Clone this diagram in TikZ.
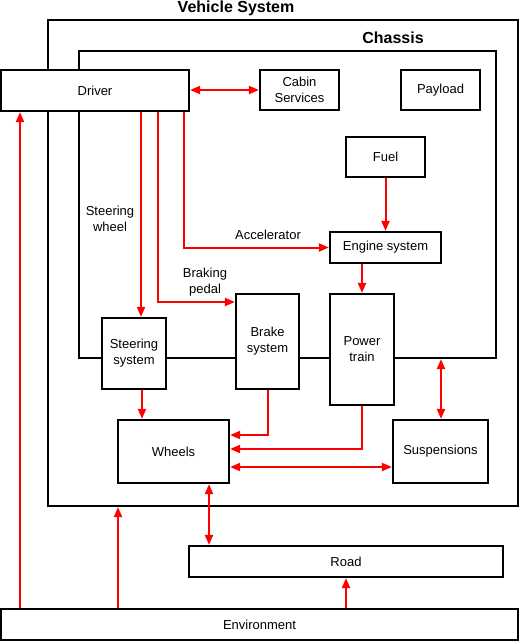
\documentclass[tikz,border=0pt]{standalone}
\usepackage{fontspec}
\setmainfont{Liberation Sans}
\usetikzlibrary{arrows.meta}
\def\boxLine{2.2pt}
\def\flowLine{2pt}

\begin{document}
\begin{tikzpicture}[
    x=1pt, y=-1pt,
    >={Triangle[length=10pt,width=8pt]},
    every node/.style={font=\fontsize{13}{16}\selectfont, align=center},
    block/.style={draw, fill=white, line width=\boxLine, inner sep=0pt},
    frame/.style={draw, line width=\boxLine, inner sep=0pt},
    title/.style={font=\fontsize{16}{18}\selectfont\bfseries},
    flow/.style={red, line width=\flowLine}
]
\useasboundingbox (0,0) rectangle (520,642);

% frames
\node[frame, minimum width=470pt, minimum height=486pt] (vehicle) at (283,263) {};
\node[title] (vehicleTitle) at (236,8) {Vehicle System};
\node[frame, minimum width=417pt, minimum height=307pt] (chassis) at (287.5,204.5) {};
\node[title] (chassisTitle) at (393,38) {Chassis};

% blocks
\node[block, minimum width=188pt, minimum height=41pt] (driver) at (95,90.5) {Driver};
\node[block, minimum width=79pt, minimum height=40pt] (cabin) at (299.5,90) {Cabin\\Services};
\node[block, minimum width=79pt, minimum height=40pt] (payload) at (440.5,90) {Payload};
\node[block, minimum width=79pt, minimum height=40pt] (fuel) at (385.5,157) {Fuel};
\node[block, minimum width=111pt, minimum height=31pt] (engine) at (385.5,247.5) {Engine system};
\node[block, minimum width=64pt, minimum height=71pt] (steering) at (134,353.5) {Steering\\system};
\node[block, minimum width=63pt, minimum height=95pt] (brake) at (267.5,341.5) {Brake\\system};
\node[block, minimum width=64pt, minimum height=111pt] (power) at (362,349.5) {Power\\train};
\node[block, minimum width=111pt, minimum height=63pt] (wheels) at (173.5,451.5) {Wheels};
\node[block, minimum width=95pt, minimum height=63pt] (suspensions) at (440.5,451.5) {Suspensions};
\node[block, minimum width=314pt, minimum height=31pt] (road) at (346,561.5) {Road};
\node[block, minimum width=517pt, minimum height=31pt] (environment) at (259.5,624.5) {Environment};

% labels
\node (steeringLabel) at (110,219) {Steering\\wheel};
\node (brakingLabel) at (205,282) {Braking\\pedal};
\node (acceleratorLabel) at (268,235) {Accelerator};

% flows
\draw[flow, <->] (driver.east |- cabin.west) -- (cabin.west);
\draw[flow, ->] (141,0 |- driver.south) -- (141,0 |- steering.north);
\draw[flow, ->] (158,0 |- driver.south) |- (brake.west |- 0,302);
\draw[flow, ->] (184,0 |- driver.south) |- (engine.west);
\draw[flow, ->] (fuel.south) -- (engine.north);
\draw[flow, ->] (power.north |- engine.south) -- (power.north);
\draw[flow, ->] (142,0 |- steering.south) -- (142,0 |- wheels.north);
\draw[flow, ->] (brake.south) |- (wheels.east |- 0,435);
\draw[flow, ->] (power.south) |- (wheels.east |- 0,449);
\draw[flow, <->] (wheels.east |- 0,467) -- (suspensions.west |- 0,467);
\draw[flow, <->] (441,0 |- chassis.south) -- (441,0 |- suspensions.north);
\draw[flow, <->] (209,0 |- wheels.south) -- (209,0 |- road.north);
\draw[flow, ->] (road.south |- environment.north) -- (road.south);
\draw[flow, ->] (118,0 |- environment.north) -- (118,0 |- vehicle.south);
\draw[flow, ->] (20,0 |- environment.north) -- (20,0 |- driver.south);
\end{tikzpicture}
\end{document}
